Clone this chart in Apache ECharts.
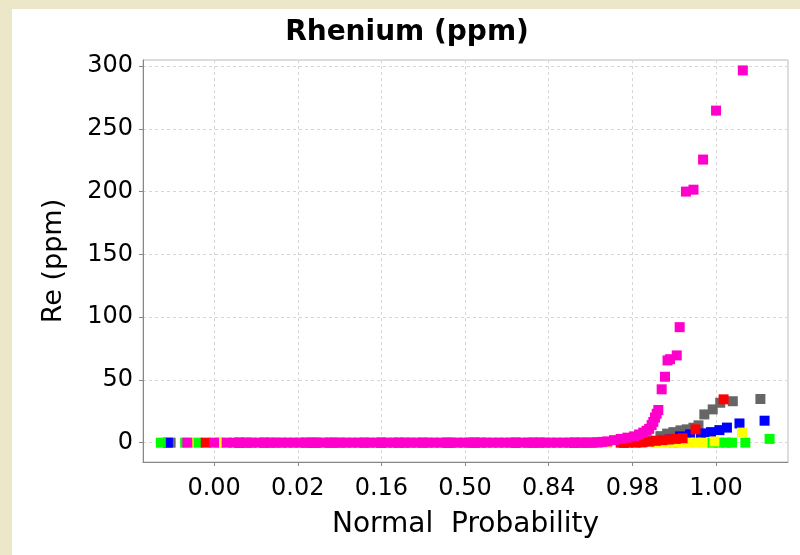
<!DOCTYPE html>
<html>
<head>
<meta charset="utf-8">
<script src="https://cdn.jsdelivr.net/npm/echarts@6/dist/echarts.min.js"></script>
<style>
html,body{margin:0;padding:0;background:#ECE7C8;}
#chart{width:800px;height:555px;}
</style>
</head>
<body>
<div id="chart"></div>
<script>
// ---- axis tick data ----
const probTickZ = [-3, -2, -1, 0, 1, 2, 3];
const probLabels = ['0.00', '0.02', '0.16', '0.50', '0.84', '0.98', '1.00'];
const reTicks = [0, 50, 100, 150, 200, 250, 300];

// ---- series data: normal score (z) and Re (ppm) ----
const grayZ  = [-3.52, -2.6, -1.9, -1.2, -0.5, 0.2, 0.9, 1.5, 1.95, 2.2, 2.335, 2.415, 2.49, 2.575, 2.65, 2.73, 2.79, 2.86, 2.96, 3.05, 3.2, 3.53];
const grayRe = [0, 0, 0, 0, 0, 0, 0, 0, 0.5, 1.5, 5.2, 7.2, 8.4, 9.8, 10.6, 11.9, 13.8, 22.5, 26.5, 31.8, 33, 34.8];

const blueZ  = [-3.553, -2.7, -1.8, -1.0, -0.2, 0.6, 1.3, 1.9, 2.3, 2.45, 2.57, 2.69, 2.82, 2.94, 3.04, 3.13, 3.28, 3.58];
const blueRe = [0, 0, 0, 0, 0, 0, 0, 0, 0.5, 2.5, 5, 6.6, 7.4, 8.4, 10, 12, 15.3, 17.5];

const greenZ  = [-3.637, -3.346, -3.195, -2.93, -2.3, -1.5, -0.7, 0.1, 0.9, 1.6, 2.1, 2.5, 2.95, 3.04, 3.12, 3.19, 3.35, 3.64];
const greenRe = [0, 0, 0, 0, 0, 0, 0, 0, 0, 0, 0, 0, 0, 0, 0, 0, 0, 3];

const yellowZ  = [-3.305, -2.928, -2.2, -1.4, -0.6, 0.2, 1.0, 1.7, 2.1, 2.28, 2.36, 2.44, 2.52, 2.6, 2.68, 2.76, 2.84, 2.98, 3.31];
const yellowRe = [0, 0, 0, 0, 0, 0, 0, 0, 0, 0, 0, 0, 0, 0, 0, 0, 0, 1, 8];

const redZ  = [-3.10, -2.4, -1.6, -0.8, 0.1, 0.8, 1.4, 1.86, 1.95, 2.04, 2.12, 2.2, 2.28, 2.36, 2.44, 2.52, 2.6, 2.755, 3.09];
const redRe = [0, 0, 0, 0, 0, 0, 0, 0, 0, 0, 0.3, 0.8, 1.5, 2, 2.5, 3, 3.5, 10.6, 34.5];

const magentaZ = [-3.32, -3.0,
  -2.85, -2.77, -2.70, -2.62, -2.55, -2.47, -2.40, -2.33, -2.26, -2.19, -2.12, -2.05, -1.98, -1.91,
  -1.84, -1.77, -1.70, -1.63, -1.56, -1.49, -1.42, -1.35, -1.28, -1.21, -1.14, -1.07, -1.00, -0.93,
  -0.86, -0.79, -0.72, -0.65, -0.58, -0.51, -0.44, -0.37, -0.30, -0.23, -0.16, -0.09, -0.02, 0.05,
  0.12, 0.19, 0.26, 0.33, 0.40, 0.47, 0.54, 0.61, 0.68, 0.75, 0.82, 0.89, 0.96, 1.03, 1.10, 1.17,
  1.24, 1.31, 1.38, 1.45, 1.52, 1.58, 1.64,
  1.70, 1.78, 1.86, 1.94, 2.02, 2.08, 2.13, 2.17, 2.20, 2.23, 2.25, 2.27, 2.29, 2.31,
  2.35, 2.39, 2.42, 2.45, 2.53, 2.565, 2.64, 2.73, 2.845, 3.0, 3.32];
const magentaRe = [0, 0,
  0, 0, 0, 0, 0, 0, 0, 0, 0, 0, 0, 0, 0, 0,
  0, 0, 0, 0, 0, 0, 0, 0, 0, 0, 0, 0, 0, 0,
  0, 0, 0, 0, 0, 0, 0, 0, 0, 0, 0, 0, 0, 0,
  0, 0, 0, 0, 0, 0, 0, 0, 0, 0, 0, 0, 0, 0, 0, 0,
  0, 0, 0, 0, 0, 0.3, 0.6,
  1, 2, 3, 4, 5, 6.5, 8, 9.5, 11, 14, 16.5, 20, 23, 26,
  42.5, 52.5, 65.5, 66.5, 69.5, 92, 200, 201.5, 225.5, 264.5, 296.5];

const groups = [
  {z: grayZ, v: grayRe, color: '#666666'},
  {z: blueZ, v: blueRe, color: '#0000FF'},
  {z: greenZ, v: greenRe, color: '#00FF00'},
  {z: yellowZ, v: yellowRe, color: '#FFFF00'},
  {z: redZ, v: redRe, color: '#FF0000'},
  {z: magentaZ, v: magentaRe, color: '#FF00CC'}
];

const chart = echarts.init(document.getElementById('chart'), null, {renderer: 'canvas'});
const FONT = 'DejaVu Sans';

chart.setOption({
  animation: false,
  backgroundColor: '#ECE7C8',
  graphic: [
    {type: 'rect', z: -10, silent: true, shape: {x: 12, y: 9, width: 788, height: 546}, style: {fill: '#FFFFFF'}},
    {type: 'text', z: 10, x: 407, y: 33, style: {text: 'Rhenium (ppm)', fill: '#000', fontFamily: FONT, fontWeight: 'bold', fontSize: 28, align: 'center', verticalAlign: 'middle', textAlign: 'center', textVerticalAlign: 'middle'}}
  ],
  grid: {left: 143, right: 12, top: 60, bottom: 93, show: true, borderColor: '#BBBBBB', borderWidth: 1, backgroundColor: 'transparent'},
  xAxis: {
    type: 'value', min: -3.85, max: 3.86,
    name: 'Normal  Probability', nameLocation: 'middle', nameGap: 49,
    nameTextStyle: {fontFamily: FONT, fontSize: 28, color: '#000'},
    axisLine: {show: true, onZero: false, lineStyle: {color: '#888888'}},
    axisTick: {show: true, length: 4, lineStyle: {color: '#888888'}, customValues: probTickZ},
    axisLabel: {customValues: probTickZ, margin: 15, fontFamily: FONT, fontSize: 24, color: '#000',
      formatter: function (v) { const i = probTickZ.indexOf(Math.round(v)); return i >= 0 ? probLabels[i] : ''; }},
    splitLine: {show: true, lineStyle: {color: '#D6D6D6', type: [3, 3]}}
  },
  yAxis: {
    type: 'value', min: -15.4, max: 304.8,
    name: 'Re (ppm)', nameLocation: 'middle', nameGap: 76, nameRotate: 90,
    nameTextStyle: {fontFamily: FONT, fontSize: 27, color: '#000'},
    axisLine: {show: true, onZero: false, lineStyle: {color: '#888888'}},
    axisTick: {show: true, length: 4, lineStyle: {color: '#888888'}, customValues: reTicks},
    axisLabel: {customValues: reTicks, margin: 10, fontFamily: FONT, fontSize: 24, color: '#000'},
    splitLine: {show: true, lineStyle: {color: '#D6D6D6', type: [3, 3]}}
  },
  series: groups.map(function (g) {
    return {
      type: 'scatter', symbol: 'rect', symbolSize: 10,
      itemStyle: {color: g.color, opacity: 1},
      data: g.z.map(function (z, i) { return [z, g.v[i]]; })
    };
  })
});
</script>
</body>
</html>
